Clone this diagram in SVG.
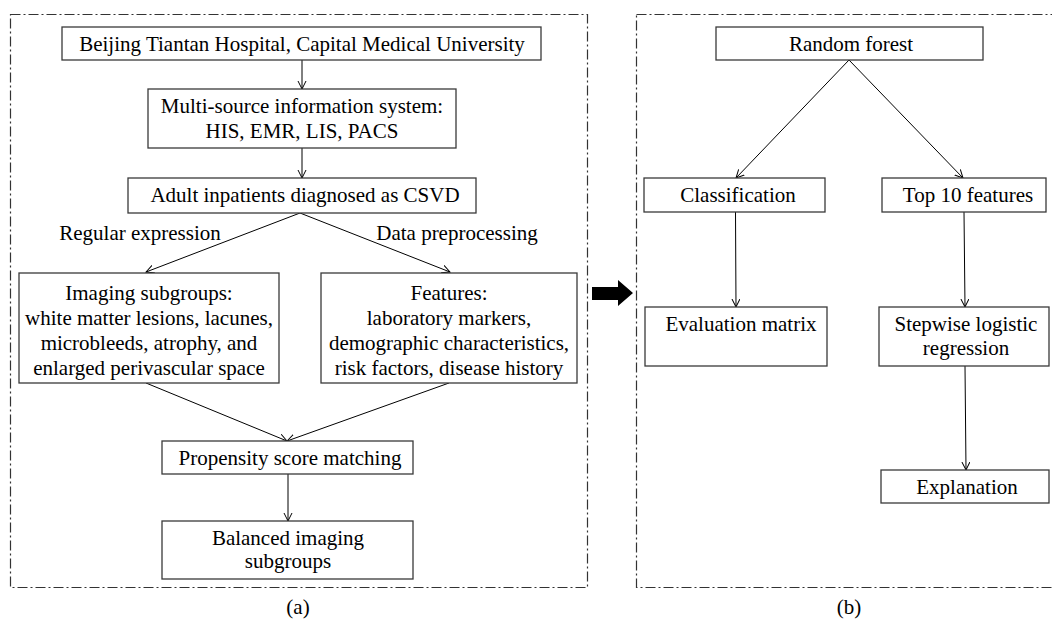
<svg xmlns="http://www.w3.org/2000/svg" width="1052" height="622" viewBox="0 0 1052 622">
<style>
.panel{fill:none;stroke:#333;stroke-width:1.2;stroke-dasharray:10 3 2 3}
.box{fill:#fff;stroke:#3a3a3a;stroke-width:1.3}
.t{font-family:"Liberation Serif","Times New Roman",serif;font-size:21px;fill:#000;text-anchor:middle}
.c{fill:none;stroke:#000;stroke-width:1}
</style>
<defs>
<marker id="ah" markerUnits="userSpaceOnUse" markerWidth="10" markerHeight="10" refX="8" refY="4.5" orient="auto">
<path d="M0,0.5 L8,4.5 L0,8.5" fill="none" stroke="#000" stroke-width="1"/>
</marker>
</defs>
<rect width="1052" height="622" fill="#fff"/>
<g id="panels">
<rect class="panel" x="10.5" y="14.5" width="577" height="573"/>
<rect class="panel" x="636.5" y="14.5" width="425" height="573"/>
</g>
<g id="connectors">
<line class="c" x1="302" y1="60" x2="302" y2="89" marker-end="url(#ah)"/>
<line class="c" x1="302" y1="148" x2="302" y2="178" marker-end="url(#ah)"/>
<line class="c" x1="300" y1="213" x2="146" y2="272" marker-end="url(#ah)"/>
<line class="c" x1="300" y1="213" x2="450" y2="272" marker-end="url(#ah)"/>
<line class="c" x1="146" y1="383" x2="287" y2="441" marker-end="url(#ah)"/>
<line class="c" x1="449" y1="383" x2="287" y2="441" marker-end="url(#ah)"/>
<line class="c" x1="288" y1="474" x2="288" y2="521" marker-end="url(#ah)"/>
<line class="c" x1="849" y1="60" x2="736" y2="178" marker-end="url(#ah)"/>
<line class="c" x1="849" y1="60" x2="963" y2="178" marker-end="url(#ah)"/>
<line class="c" x1="735.5" y1="212" x2="736" y2="307" marker-end="url(#ah)"/>
<line class="c" x1="964" y1="212" x2="965" y2="307" marker-end="url(#ah)"/>
<line class="c" x1="965" y1="366" x2="966" y2="470" marker-end="url(#ah)"/>
<polygon points="592,287 618,287 618,280 633,293 618,306 618,300 592,300" fill="#000"/>
</g>
<g id="n1"><rect class="box" x="62" y="27" width="479" height="33"/><text class="t" x="302" y="51">Beijing Tiantan Hospital, Capital Medical University</text></g>
<g id="n2"><rect class="box" x="148" y="89" width="308" height="59"/><text class="t" x="302" y="113">Multi-source information system:</text><text class="t" x="302" y="138">HIS, EMR, LIS, PACS</text></g>
<g id="n3"><rect class="box" x="128" y="178" width="348" height="35"/><text class="t" x="305" y="202">Adult inpatients diagnosed as CSVD</text></g>
<g id="l1"><text class="t" x="140" y="240">Regular expression</text></g>
<g id="l2"><text class="t" x="457" y="240">Data preprocessing</text></g>
<g id="n4"><rect class="box" x="19" y="273" width="260" height="110"/>
<text class="t" x="149" y="300">Imaging subgroups:</text>
<text class="t" x="149" y="325">white matter lesions, lacunes,</text>
<text class="t" x="149" y="350">microbleeds, atrophy, and</text>
<text class="t" x="149" y="375">enlarged perivascular space</text></g>
<g id="n5"><rect class="box" x="321" y="273" width="256" height="110"/>
<text class="t" x="449" y="300">Features:</text>
<text class="t" x="449" y="325">laboratory markers,</text>
<text class="t" x="449" y="350">demographic characteristics,</text>
<text class="t" x="449" y="375">risk factors, disease history</text></g>
<g id="n6"><rect class="box" x="162" y="441" width="251" height="33"/><text class="t" x="290" y="465">Propensity score matching</text></g>
<g id="n7"><rect class="box" x="162" y="521" width="251" height="58"/><text class="t" x="288" y="545">Balanced imaging</text><text class="t" x="288" y="568">subgroups</text></g>
<g id="n8"><rect class="box" x="716" y="27" width="267" height="33"/><text class="t" x="851" y="51">Random forest</text></g>
<g id="n9"><rect class="box" x="644" y="178" width="181" height="34"/><text class="t" x="738" y="202">Classification</text></g>
<g id="n10"><rect class="box" x="882" y="178" width="164" height="34"/><text class="t" x="968" y="202">Top 10 features</text></g>
<g id="n11"><rect class="box" x="645" y="307" width="182" height="59"/><text class="t" x="741" y="331">Evaluation matrix</text></g>
<g id="n12"><rect class="box" x="879" y="307" width="170" height="59"/><text class="t" x="966" y="331">Stepwise logistic</text><text class="t" x="966" y="355">regression</text></g>
<g id="n13"><rect class="box" x="881" y="470" width="168" height="33"/><text class="t" x="967" y="494">Explanation</text></g>
<g id="captions"><text class="t" x="298" y="614">(a)</text><text class="t" x="849" y="614">(b)</text></g>
</svg>
